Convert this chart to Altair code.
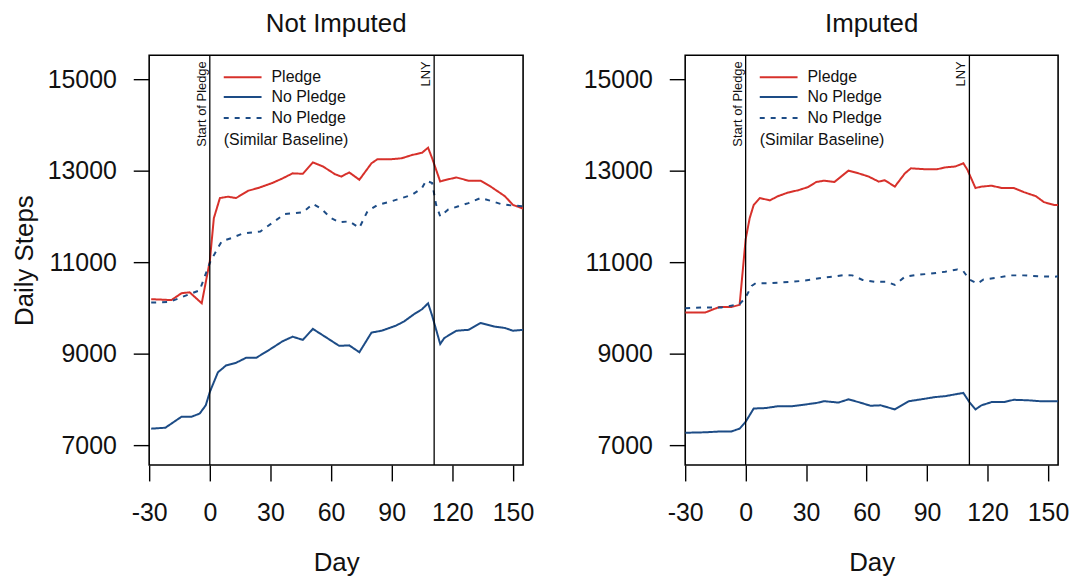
import altair as alt
import pandas as pd

FONT = "Liberation Sans"
RED = "#D7312B"
BLUE = "#1D4C86"

# ---------------- data ----------------
# Not Imputed
ni_pledge_day = [-29, -19, -14, -10, -4, 0, 2, 5, 9, 13, 19, 24, 31, 36, 41, 46, 51, 56, 62, 65, 69, 74, 80, 83, 90, 95, 100, 105, 108, 110, 114, 116, 122, 128, 134, 139, 146, 150, 155]
ni_pledge_val = [10190, 10170, 10320, 10340, 10100, 11020, 11960, 12400, 12430, 12400, 12560, 12620, 12730, 12830, 12940, 12930, 13180, 13090, 12920, 12870, 12960, 12800, 13160, 13250, 13250, 13270, 13340, 13390, 13500, 13270, 12760, 12790, 12850, 12780, 12780, 12650, 12440, 12250, 12170]

ni_sim_day = [-29, -20, -5, 0, 4, 6, 11, 16, 21, 25, 31, 37, 42, 46, 51, 55, 60, 64, 69, 74, 78, 83, 90, 95, 100, 105, 107, 110, 112, 114, 118, 123, 128, 134, 139, 144, 149, 155]
ni_sim_val = [10115, 10130, 10385, 10985, 11310, 11460, 11530, 11620, 11650, 11670, 11860, 12050, 12070, 12090, 12270, 12170, 11960, 11870, 11890, 11750, 12110, 12250, 12330, 12400, 12470, 12620, 12780, 12730, 12250, 12000, 12150, 12220, 12290, 12400, 12340, 12270, 12240, 12220]

ni_nop_day = [-29, -22, -19, -14, -9, -5, -2, 0, 4, 8, 13, 18, 23, 29, 36, 41, 46, 51, 57, 64, 69, 74, 80, 85, 92, 96, 101, 105, 108, 110, 114, 116, 122, 128, 134, 141, 146, 150, 155]
ni_nop_val = [7360, 7380, 7470, 7620, 7620, 7690, 7870, 8160, 8590, 8740, 8800, 8910, 8910, 9070, 9270, 9370, 9300, 9540, 9370, 9170, 9180, 9030, 9460, 9500, 9610, 9700, 9860, 9970, 10100, 9830, 9210, 9340, 9500, 9520, 9670, 9590, 9560, 9500, 9520]

# Imputed
im_pledge_day = [-30, -20, -13, -7, -3, 0, 2, 4, 7, 12, 16, 21, 26, 31, 35, 39, 44, 51, 56, 61, 66, 69, 74, 79, 82, 89, 95, 99, 104, 108, 110, 114, 117, 122, 127, 133, 138, 144, 148, 153, 155]
im_pledge_val = [9900, 9900, 10020, 10020, 10065, 11500, 11960, 12250, 12400, 12350, 12440, 12520, 12570, 12640, 12750, 12780, 12750, 13000, 12940, 12870, 12760, 12790, 12650, 12940, 13050, 13030, 13030, 13070, 13090, 13160, 13020, 12620, 12650, 12670, 12620, 12620, 12530, 12440, 12310, 12250, 12250]

im_sim_day = [-30, -20, -12, -3, 0, 3, 5, 12, 16, 23, 28, 33, 38, 43, 49, 53, 58, 64, 70, 74, 79, 85, 92, 99, 105, 108, 111, 115, 118, 125, 131, 138, 145, 153, 155]
im_sim_val = [9990, 10010, 10010, 10080, 10230, 10480, 10540, 10540, 10550, 10570, 10590, 10620, 10660, 10680, 10720, 10710, 10610, 10570, 10570, 10500, 10680, 10720, 10750, 10790, 10840, 10800, 10620, 10530, 10620, 10660, 10710, 10710, 10690, 10680, 10690]

im_nop_day = [-30, -20, -12, -7, -3, 0, 4, 10, 16, 23, 30, 35, 39, 46, 51, 56, 62, 67, 74, 81, 87, 94, 99, 104, 108, 111, 114, 117, 122, 128, 133, 140, 146, 155]
im_nop_val = [7270, 7280, 7300, 7300, 7360, 7510, 7800, 7810, 7850, 7850, 7890, 7920, 7960, 7930, 8000, 7940, 7860, 7870, 7780, 7960, 8000, 8050, 8070, 8110, 8140, 7940, 7780, 7870, 7940, 7940, 7990, 7980, 7960, 7960]

panel_titles = ["Not Imputed", "Imputed"]
series_names = ["Pledge", "No Pledge", "No Pledge (Similar Baseline)"]
event_days = [0, 111]
event_labels = ["Start of Pledge", "LNY"]
legend_labels = ["Pledge", "No Pledge", "No Pledge", "(Similar Baseline)"]
x_ticks = [-30, 0, 30, 60, 90, 120, 150]
y_ticks = [7000, 9000, 11000, 13000, 15000]

rows = []
def add(panel, series, days, vals):
    for d, v in zip(days, vals):
        rows.append({"panel": panel, "series": series, "day": d, "steps": v})

add(panel_titles[0], series_names[0], ni_pledge_day, ni_pledge_val)
add(panel_titles[0], series_names[1], ni_nop_day, ni_nop_val)
add(panel_titles[0], series_names[2], ni_sim_day, ni_sim_val)
add(panel_titles[1], series_names[0], im_pledge_day, im_pledge_val)
add(panel_titles[1], series_names[1], im_nop_day, im_nop_val)
add(panel_titles[1], series_names[2], im_sim_day, im_sim_val)
df = pd.DataFrame(rows)
ev = pd.DataFrame({"day": event_days, "label": event_labels})


def legend_layers():
    layers = []
    line_rows = [(22, RED, [1, 0]), (42, BLUE, [1, 0]), (63, BLUE, [5, 6])]
    for (yy, col, dash) in line_rows:
        layers.append(
            alt.Chart(pd.DataFrame({"k": [0]})).mark_rule(color=col, strokeWidth=2, strokeDash=dash).encode(
                x=alt.value(75), x2=alt.value(113), y=alt.value(yy)
            )
        )
    text_pos = [(123, 22), (123, 42), (123, 63), (75, 85)]
    for lbl, (xx, yy) in zip(legend_labels, text_pos):
        layers.append(
            alt.Chart(pd.DataFrame({"label": [lbl]})).mark_text(
                align="left", baseline="middle", font=FONT, fontSize=16, color="#111"
            ).encode(x=alt.value(xx), y=alt.value(yy), text="label:N")
        )
    return layers


def panel(name, width, show_ytitle):
    d = df[df["panel"] == name]
    x = alt.X("day:Q", scale=alt.Scale(domain=[-30, 155], nice=False, zero=False),
              axis=alt.Axis(values=x_ticks, title="Day", labelFlush=False,
                            labelExpr="'' + datum.value"))
    yaxis_kw = dict(values=y_ticks, format="d")
    if show_ytitle:
        yaxis_kw["title"] = "Daily Steps"
    else:
        yaxis_kw["title"] = ""
    y = alt.Y("steps:Q", scale=alt.Scale(domain=[6565, 15520], nice=False, zero=False),
              axis=alt.Axis(**yaxis_kw))
    lines = alt.Chart(d).mark_line(strokeWidth=2, clip=True).encode(
        x=x, y=y,
        color=alt.Color("series:N", scale=alt.Scale(domain=series_names, range=[RED, BLUE, BLUE]), legend=None),
        strokeDash=alt.StrokeDash("series:N", scale=alt.Scale(domain=series_names, range=[[1, 0], [1, 0], [5, 6]]), legend=None),
    )
    rules = alt.Chart(ev).mark_rule(color="black", strokeWidth=1.3).encode(x="day:Q")
    evtext = alt.Chart(ev).mark_text(angle=270, align="right", baseline="bottom", font=FONT, fontSize=13, color="#111", dy=-1).encode(
        x="day:Q", y=alt.value(6), text="label:N"
    )
    return alt.layer(lines, rules, evtext, *legend_layers()).properties(
        width=width, height=412, title=name
    )


chart = alt.hconcat(
    panel(panel_titles[0], 376, True),
    panel(panel_titles[1], 375, False),
    spacing=163, bounds="flush",
).properties(
    padding={"left": 10, "top": 8, "right": 5, "bottom": 0}
).configure_view(
    stroke="black", strokeWidth=1.6
).configure_axis(
    labelFont=FONT, titleFont=FONT, labelFontSize=25, titleFontSize=26,
    labelColor="#111", titleColor="#111", titleFontWeight="normal",
    grid=False, domain=False, tickColor="black", tickWidth=1.4, tickSize=16,
).configure_axisX(
    labelPadding=20, titlePadding=24
).configure_axisY(
    labelPadding=17, titlePadding=10
).configure_title(
    font=FONT, fontSize=26, fontWeight="normal", color="#111", offset=18
)

chart.save("out.html", embed_options={"renderer": "svg", "actions": False})
